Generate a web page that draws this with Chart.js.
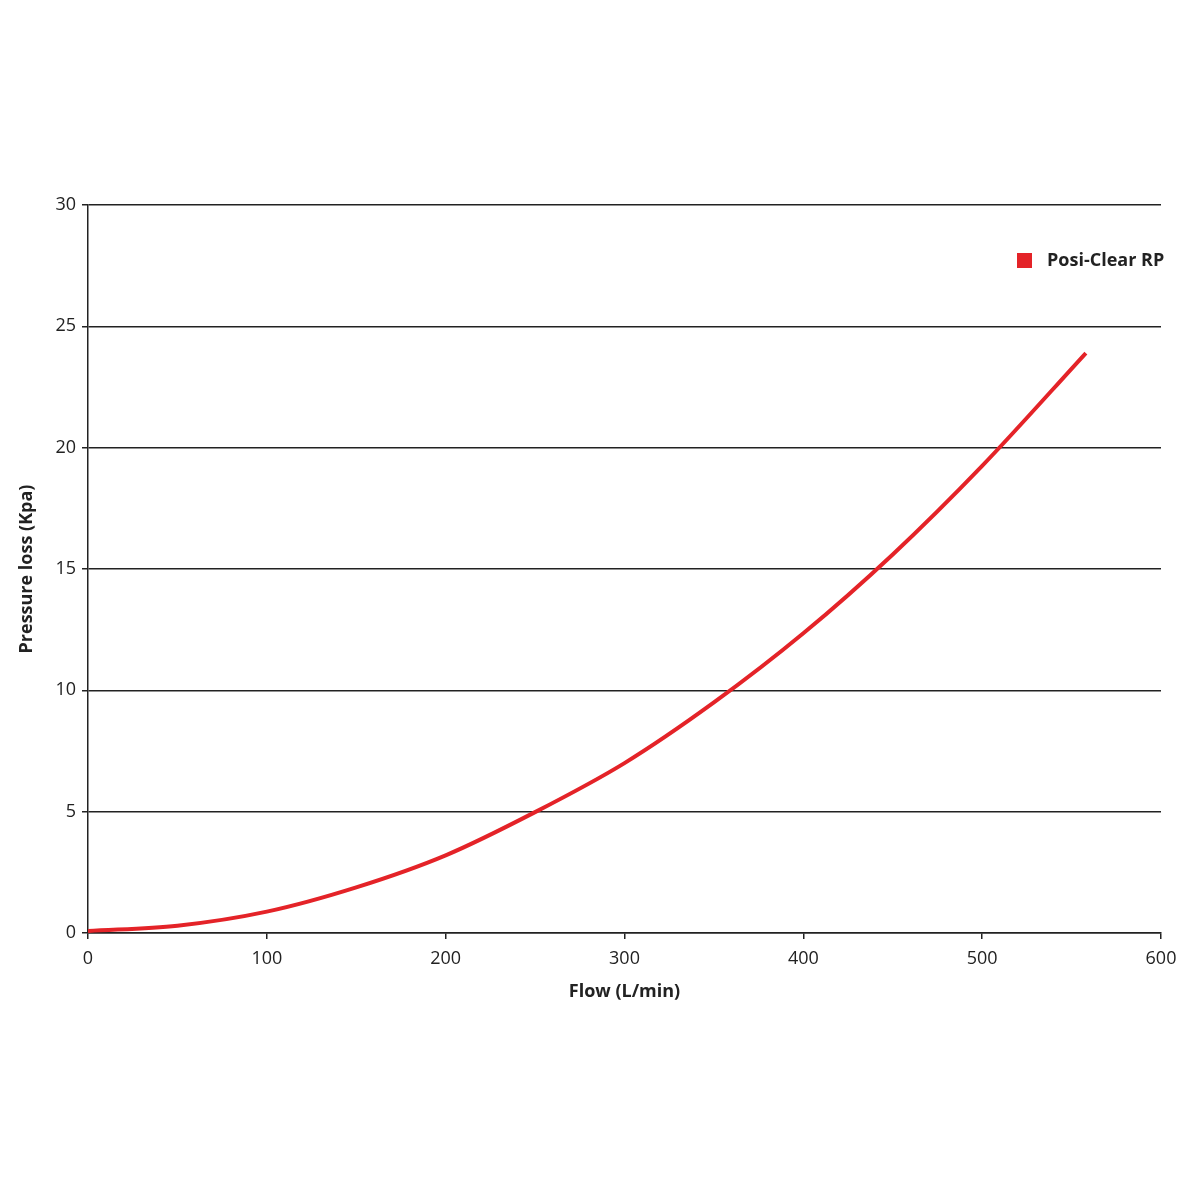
<!DOCTYPE html>
<html>
<head>
<meta charset="utf-8">
<script src="https://cdn.jsdelivr.net/npm/chart.js@4"></script>
<style>
  html, body { margin: 0; padding: 0; background: #fff; }
  #wrap { width: 1199px; height: 1199px; }
</style>
</head>
<body>
<div id="wrap"><canvas id="pressureChart" width="1199" height="1199"></canvas></div>
<script>
// Data
const flowValues = [0, 50, 100, 150, 200, 250, 300, 350, 400, 450, 500, 558];
const pressureValues = [0.08, 0.3, 0.88, 1.88, 3.2, 4.98, 7.0, 9.5, 12.35, 15.6, 19.25, 23.9];
const seriesLabel = 'Posi-Clear RP';
const xTicks = [0, 100, 200, 300, 400, 500, 600];
const yTicks = [0, 5, 10, 15, 20, 25, 30];

const lineRed = 'rgb(228, 35, 40)';
const inkColor = '#222';
const fontFamily = "'Open Sans', 'Liberation Sans', sans-serif";

// Legend drawn in the top-right corner of the plot
const cornerLegend = {
  id: 'cornerLegend',
  afterDraw(chart) {
    const ctx = chart.ctx;
    const label = chart.data.datasets[0].label;
    ctx.save();
    ctx.fillStyle = chart.data.datasets[0].borderColor;
    ctx.fillRect(1017, 253, 15, 15);
    ctx.fillStyle = inkColor;
    ctx.font = "bold 18px " + fontFamily;
    ctx.textBaseline = 'middle';
    ctx.textAlign = 'left';
    ctx.fillText(label, 1047, 261);
    ctx.restore();
  }
};

const ctx = document.getElementById('pressureChart').getContext('2d');
const pressureChart = new Chart(ctx, {
  type: 'scatter',
  data: {
    datasets: [
      {
        label: seriesLabel,
        data: flowValues.map((x, i) => ({ x: x, y: pressureValues[i] })),
        showLine: true,
        borderColor: lineRed,
        borderWidth: 4,
        pointRadius: 0,
        cubicInterpolationMode: 'monotone',
        fill: false,
      },
    ],
  },
  options: {
    responsive: false,
    animation: false,
    layout: {
      padding: { left: 16, right: 38, top: 205, bottom: 186 },
    },
    plugins: {
      legend: { display: false },
      tooltip: { enabled: false },
    },
    scales: {
      x: {
        type: 'linear',
        min: 0,
        max: 600,
        afterBuildTicks: (axis) => { axis.ticks = xTicks.map(v => ({ value: v })); },
        afterFit: (axis) => { axis.height = 80; },
        grid: {
          drawOnChartArea: false,
          drawTicks: true,
          tickLength: 6,
          color: inkColor,
          lineWidth: 1.5,
        },
        border: { display: true, color: inkColor, width: 1.5 },
        ticks: {
          color: inkColor,
          font: { family: fontFamily, size: 18 },
          padding: 9,
          maxRotation: 0,
        },
        title: {
          display: true,
          text: 'Flow (L/min)',
          color: inkColor,
          font: { family: fontFamily, size: 18, weight: 'bold' },
          padding: { top: 0, bottom: 10 },
        },
      },
      y: {
        type: 'linear',
        min: 0,
        max: 30,
        afterBuildTicks: (axis) => { axis.ticks = yTicks.map(v => ({ value: v })); },
        afterFit: (axis) => { axis.width = 72; },
        grid: {
          drawOnChartArea: true,
          drawTicks: true,
          tickLength: 6,
          color: inkColor,
          lineWidth: 1.5,
        },
        border: { display: true, color: inkColor, width: 1.5 },
        ticks: {
          color: inkColor,
          font: { family: fontFamily, size: 18 },
          padding: 6,
        },
        title: {
          display: true,
          text: 'Pressure loss (Kpa)',
          color: inkColor,
          font: { family: fontFamily, size: 18, weight: 'bold' },
          padding: { top: 0, bottom: 4 },
        },
      },
    },
  },
  plugins: [cornerLegend],
});
</script>
</body>
</html>
